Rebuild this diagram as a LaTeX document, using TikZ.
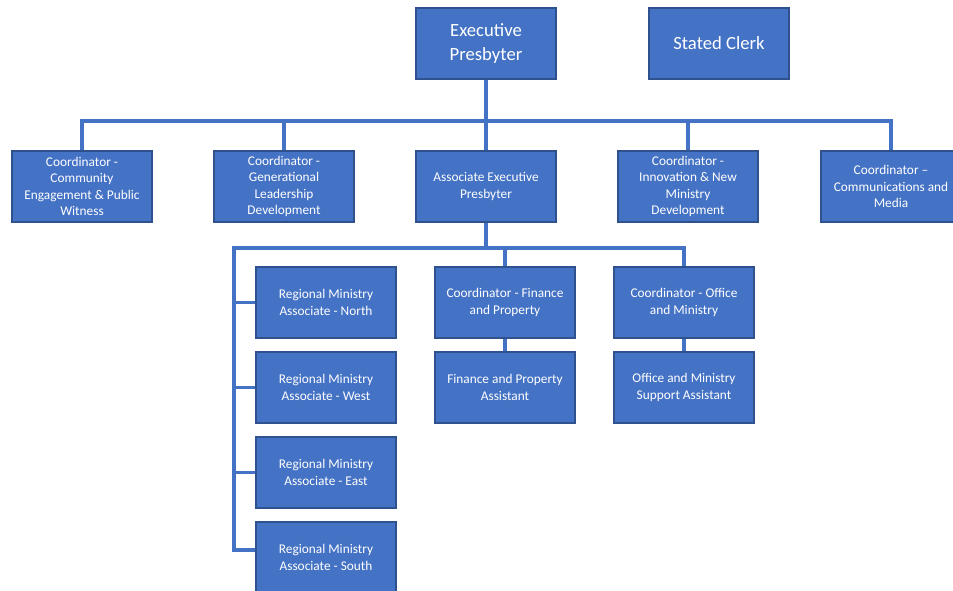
\documentclass[tikz,border=0pt]{standalone}
\usepackage{fontspec}
\setmainfont{Carlito}
\definecolor{boxfill}{HTML}{4472C4}
\definecolor{boxline}{HTML}{2F528F}
\begin{document}
\begin{tikzpicture}[x=0.75pt,y=-0.75pt,
  box/.style={draw=boxline,line width=0.8pt,fill=boxfill,text=white,align=center,
    minimum width=105pt,minimum height=53.25pt,inner sep=1pt,font=\fontsize{10}{12.2}\selectfont},
  bigbox/.style={box,font=\fontsize{14}{18}\selectfont},
  conn/.style={draw=boxfill,line width=2.3pt}]
\useasboundingbox (0,0) rectangle (953,591);
\clip (0,0) rectangle (953,591);
% top
\node[bigbox] (ep) at (486,43.5) {\raisebox{-2pt}{\parbox{100pt}{\centering Executive\\Presbyter}}};
\node[bigbox] (sc) at (719,43.5) {Stated Clerk};
% row 2
\node[box] (c1) at (82,186.5) {Coordinator -\\Community\\Engagement \& Public\\Witness};
\node[box] (c2) at (284,186.5) {Coordinator -\\Generational\\Leadership\\Development};
\node[box] (aep) at (486,186.5) {Associate Executive\\Presbyter};
\node[box] (c4) at (688,186.5) {Coordinator -\\Innovation \& New\\Ministry\\Development};
\node[box] (c5) at (891,186.5) {Coordinator –\\Communications and\\Media};
% row 3+
\node[box] (rn) at (326,302.5) {Regional Ministry\\Associate - North};
\node[box] (rw) at (326,387.5) {Regional Ministry\\Associate - West};
\node[box] (re) at (326,472.5) {Regional Ministry\\Associate - East};
\node[box] (rs) at (326,557.5) {Regional Ministry\\Associate - South};
\node[box] (cf) at (505,302.5) {Coordinator - Finance\\and Property};
\node[box] (fa) at (505,387.5) {Finance and Property\\Assistant};
\node[box] (co) at (684,302.5) {Coordinator - Office\\and Ministry};
\node[box] (oa) at (684,387.5) {Office and Ministry\\Support Assistant};
% connectors level 1
\coordinate (bus) at (486,121);
\draw[conn] (ep.south) -- (aep.north);
\draw[conn] (c1.north) |- (bus) -| (c5.north);
\draw[conn] (c2.north) -- (c2.north |- bus);
\draw[conn] (c4.north) -- (c4.north |- bus);
% connectors level 2
\coordinate (lt) at (234,248);
\coordinate (sj) at (234,550);
\draw[conn] (aep.south) -- (aep.south |- lt);
\draw[conn] (sj -| rs.west) -- (sj) -- (lt) -- (lt -| co.north) -- (co.north);
\draw[conn] (cf.north) -- (cf.north |- lt);
\draw[conn] (rn.west) -- (rn.west -| lt);
\draw[conn] (rw.west) -- (rw.west -| lt);
\draw[conn] (re.west) -- (re.west -| lt);
\draw[conn] (cf.south) -- (fa.north);
\draw[conn] (co.south) -- (oa.north);
\end{tikzpicture}
\end{document}
